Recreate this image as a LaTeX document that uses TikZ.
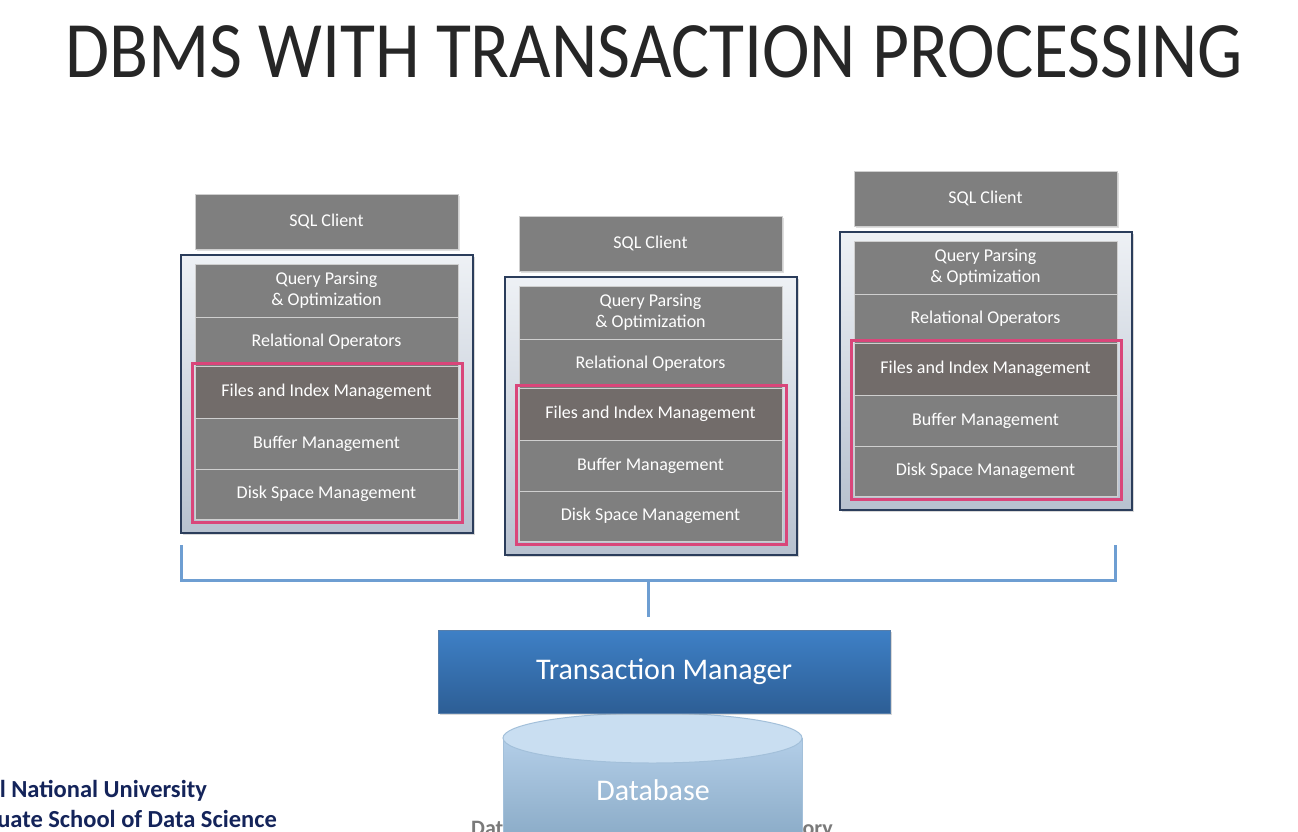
\documentclass[tikz,border=0pt]{standalone}
\usepackage{fontspec}
\setmainfont{Carlito}
\usetikzlibrary{shadows,shapes.geometric}
\definecolor{boxgray}{HTML}{7F7F7F}
\definecolor{filesgray}{HTML}{726C6A}
\definecolor{boxedge}{HTML}{CFCFCF}
\definecolor{navy}{HTML}{2B3D5B}
\definecolor{pinkred}{HTML}{D9467A}
\definecolor{bracketblue}{HTML}{6E9ED2}
\definecolor{tmtop}{HTML}{3E80C6}
\definecolor{tmbot}{HTML}{2D5E95}
\definecolor{dbtop}{HTML}{B3CEE8}
\definecolor{dbbot}{HTML}{88A9C5}
\definecolor{dblid}{HTML}{C9DEF1}
\definecolor{dbedge}{HTML}{A3C0DA}
\definecolor{footnavy}{HTML}{14245A}
\definecolor{ctop}{HTML}{EEF1F5}
\definecolor{cbot}{HTML}{B7C1CF}
\definecolor{titlegray}{HTML}{262626}
\definecolor{capgray}{HTML}{7A7A7A}
\tikzset{
  layer/.style={draw=boxedge, line width=1pt, fill=boxgray, text=white,
    minimum width=263pt, inner sep=0pt, outer sep=0pt,
    font=\fontsize{18}{21}\selectfont, align=center},
  sqlbox/.style={layer, minimum height=55pt, drop shadow={shadow xshift=1.5pt, shadow yshift=-1.5pt, opacity=0.25}},
  container/.style={draw=navy, line width=1.2pt, top color=ctop, bottom color=cbot,
    minimum width=292pt, minimum height=278pt, inner sep=0pt, outer sep=0pt,
    drop shadow={shadow xshift=2pt, shadow yshift=-2pt, opacity=0.3}},
  pinkbox/.style={draw=pinkred, line width=3pt, minimum width=270pt, minimum height=159pt, inner sep=0pt},
  bracket/.style={draw=bracketblue, line width=3pt},
  tmbox/.style={top color=tmtop, bottom color=tmbot, draw=tmbot!80!white, line width=0.8pt,
    minimum width=452pt, minimum height=83pt, inner sep=0pt, text=white,
    font=\fontsize{30}{34}\selectfont,
    drop shadow={shadow xshift=1.5pt, shadow yshift=-2pt, opacity=0.3}},
  foot/.style={text=footnavy, font=\bfseries\fontsize{24.5}{27}\selectfont, inner sep=0pt},
  capt/.style={text=capgray, font=\bfseries\fontsize{22}{26}\selectfont, inner sep=0pt},
}
\newcommand\dbstack[3]{%
\begin{scope}[shift={(#2,#3)}]
  \node[sqlbox] (sql#1) at (326.5,221.5) {SQL Client};
  \node[container] (ct#1) at (327,394) {};
  \node[layer, minimum height=53pt] (qp#1) at (326.5,290.5) {Query Parsing\\\& Optimization};
  \node[layer, minimum height=49pt] (ro#1) at (326.5,341.5) {Relational Operators};
  \node[layer, fill=filesgray, minimum height=52pt] (fi#1) at (326.5,392) {Files and Index Management};
  \node[layer, minimum height=51pt] (bm#1) at (326.5,443.5) {Buffer Management};
  \node[layer, minimum height=50pt] (ds#1) at (326.5,494) {Disk Space Management};
  \node[pinkbox] (pk#1) at (327,442.5) {};
\end{scope}}
\begin{document}
\begin{tikzpicture}[x=1pt,y=-1pt]
\useasboundingbox (0,0) rectangle (1298,832);
\clip (0,0) rectangle (1298,832);
\fill[white] (0,0) rectangle (1298,832);
% title
\node[text=titlegray, inner sep=0pt, font=\fontsize{80}{90}\selectfont] (title) at (654,52) {\resizebox{1178pt}{\height}{DBMS WITH TRANSACTION PROCESSING}};
% stacks
\dbstack{a}{0}{0}
\dbstack{b}{324}{22}
\dbstack{c}{659}{-23}
% bracket
\coordinate (bl) at (181,545);
\coordinate (blc) at (181,580);
\coordinate (brc) at (1115,580);
\coordinate (br) at (1115,545);
\coordinate (bm) at (648,580);
\coordinate (bt) at (648,617);
\draw[bracket] (bl) -- (blc) -- (brc) -- (br);
\draw[bracket] (bm) -- (bt);
% caption behind database
\node[capt, anchor=base west] (capl) at (471,835) {Data};
\node[capt, anchor=base east] (capr) at (833,835) {atory};
% database cylinder
\path[top color=dbtop, bottom color=dbbot, draw=dbedge, line width=1pt]
  (503,738) -- (503,845) -- (802,845) -- (802,738) -- cycle;
\node[draw=dbedge, fill=dblid, line width=1pt, ellipse, minimum width=299pt, minimum height=50pt, inner sep=0pt] (dblidn) at (652.5,738) {};
\node[text=white, inner sep=0pt, font=\fontsize{30}{34}\selectfont] (db) at (653,790) {Database};
% transaction manager
\node[tmbox] (tm) at (664,671.5) {Transaction Manager};
% footer
\node[foot, anchor=base east] (f1) at (207,797) {Seoul National University};
\node[foot, anchor=base east] (f2) at (277,827) {Graduate School of Data Science};
\end{tikzpicture}
\end{document}
